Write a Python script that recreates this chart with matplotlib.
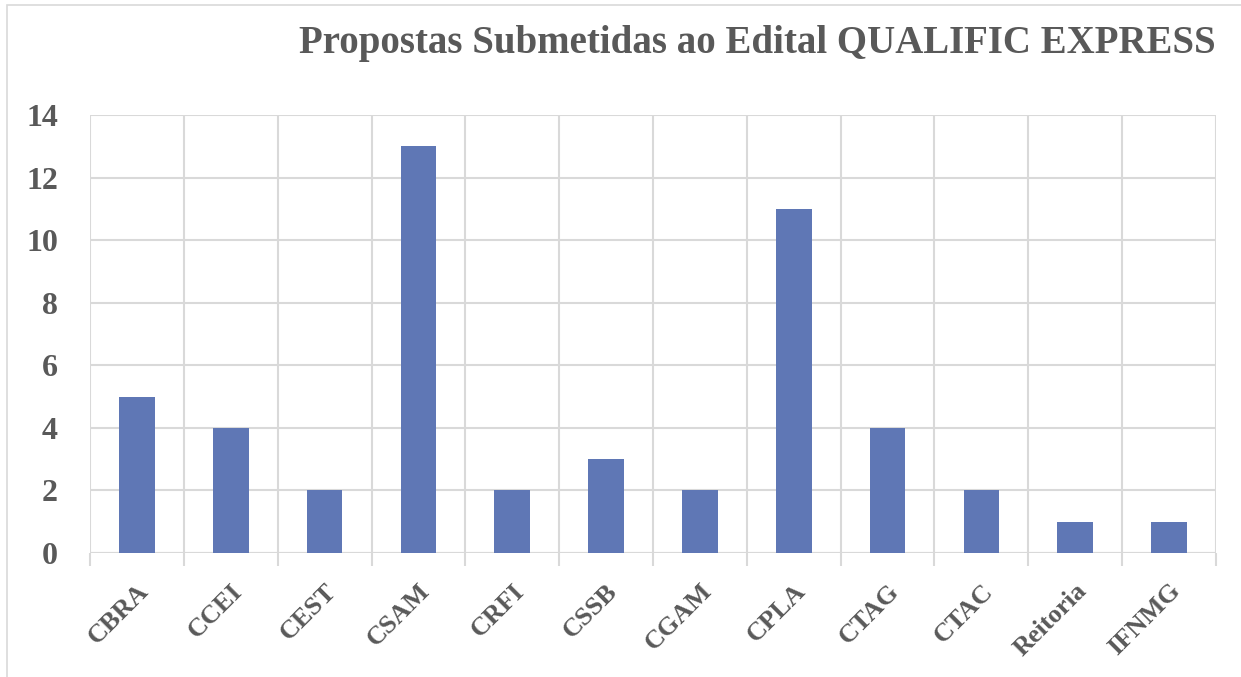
import numpy as np
import matplotlib.pyplot as plt
from matplotlib.patches import Rectangle

# data
campus = ['CBRA', 'CCEI', 'CEST', 'CSAM', 'CRFI', 'CSSB',
          'CGAM', 'CPLA', 'CTAG', 'CTAC', 'Reitoria', 'IFNMG']
propostas = [5, 4, 2, 13, 2, 3, 2, 11, 4, 2, 1, 1]
yticks = [0, 2, 4, 6, 8, 10, 12, 14]

txt = '#595959'
grid = '#d9d9d9'
plt.rcParams['font.family'] = ['Liberation Serif', 'DejaVu Serif']

fig = plt.figure(figsize=(12.41, 6.77), dpi=100)
fig.patches.append(Rectangle((7/1241, -0.05), 1.1, 1 - 5/677 + 0.05,
                             transform=fig.transFigure, fill=False,
                             edgecolor=grid, linewidth=1.2))
ax = fig.add_axes([90/1241, 1 - 553/677, 1126/1241, 438/677])

x = np.arange(len(campus))
ax.bar(x, propostas, width=0.38, color='#5f77b5', zorder=3)

ax.set_xlim(-0.5, len(campus) - 0.5)
ax.set_ylim(0, 14)
ax.set_yticks(yticks)
ax.set_yticklabels([str(v) for v in yticks], fontsize=23, fontweight='bold', color=txt)
ax.tick_params(axis='y', length=0, pad=23)

ax.set_xticks(x)
ax.set_xticklabels(campus, fontsize=19, fontweight='bold', color=txt,
                   rotation=45, ha='right', rotation_mode='anchor')
ax.tick_params(axis='x', which='major', length=0, pad=19)
ax.set_xticks(np.arange(-0.5, len(campus)), minor=True)
ax.tick_params(axis='x', which='minor', length=9, width=1.5, color=grid, direction='out')

ax.grid(axis='y', color=grid, linewidth=1.5, zorder=0)
ax.grid(axis='x', which='minor', color=grid, linewidth=1.5, zorder=0)
ax.grid(axis='x', which='major', visible=False)
for s in ax.spines.values():
    s.set_visible(False)
ax.axhline(0, color=grid, linewidth=1.5, zorder=2)

fig.text(1216/1241, 1 - 44/677, 'Propostas Submetidas ao Edital QUALIFIC EXPRESS',
         ha='right', va='center', fontsize=28, fontweight='bold', color=txt)

plt.savefig('out.png', dpi=100)
